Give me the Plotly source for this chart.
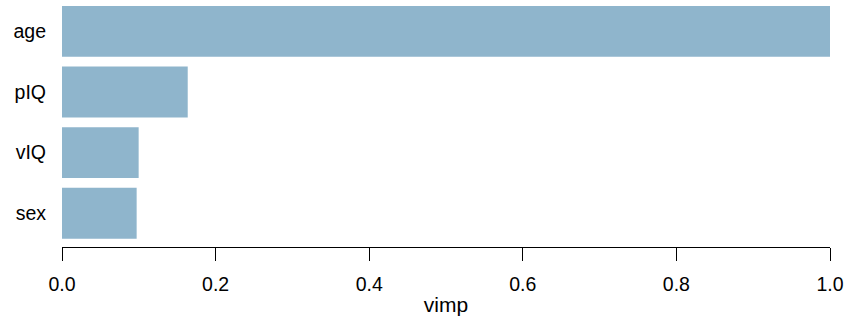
import plotly.graph_objects as go

variables = ["sex", "vIQ", "pIQ", "age"]
vimp = [0.0972, 0.0998, 0.1637, 1.0]
x_ticks = [0.0, 0.2, 0.4, 0.6, 0.8, 1.0]
x_tick_labels = ["0.0", "0.2", "0.4", "0.6", "0.8", "1.0"]

fig = go.Figure(go.Bar(
    x=vimp, y=variables, orientation="h",
    marker=dict(color="#8FB5CC", line=dict(width=0)),
    width=0.84,
))

fig.update_layout(
    width=847, height=316,
    margin=dict(l=62, r=17, t=0, b=69),
    plot_bgcolor="white", paper_bgcolor="white",
    font=dict(family="Liberation Sans, Arial, sans-serif", size=19.5, color="black"),
    showlegend=False,
)
fig.update_xaxes(
    range=[0, 1], tickvals=x_ticks, ticktext=x_tick_labels,
    showgrid=False, zeroline=False,
    showline=True, linecolor="black", linewidth=1.3,
    ticks="outside", ticklen=13, tickwidth=1.3, tickcolor="black",
    ticklabelstandoff=6,
    title=dict(text="vimp", standoff=5, font=dict(size=21)),
)
fig.update_yaxes(
    range=[-0.556, 3.517], showgrid=False, zeroline=False, showline=False,
    ticks="", ticklabelstandoff=15,
)
fig.write_html("out.html", config={"displayModeBar": False},
               post_script="document.body.style.margin='0px';")
